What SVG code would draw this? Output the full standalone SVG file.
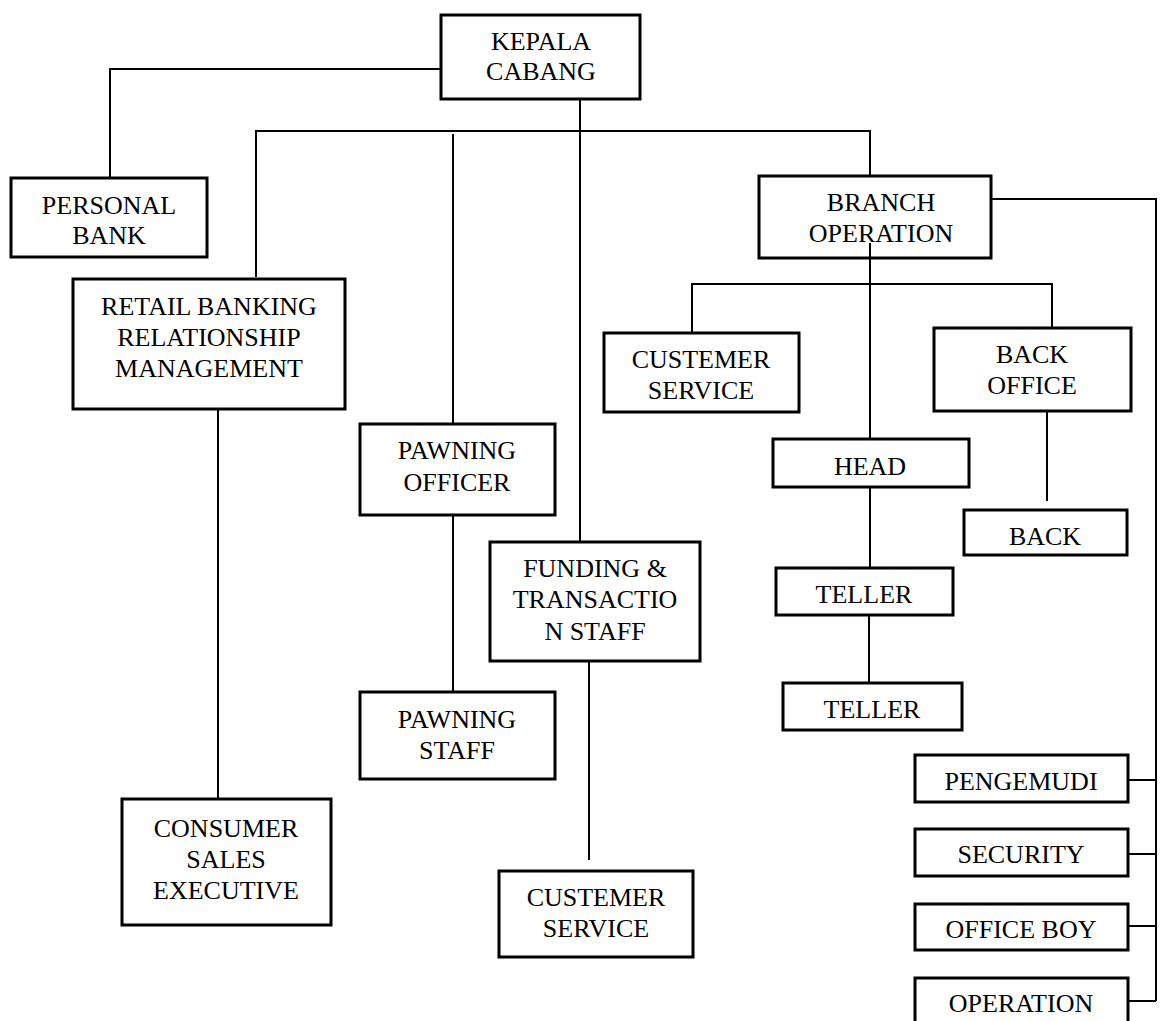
<svg xmlns="http://www.w3.org/2000/svg" width="1162" height="1021" viewBox="0 0 1162 1021">
<style>
.box{fill:#fff;stroke:#000;stroke-width:3}
.ln{fill:none;stroke:#000;stroke-width:2}
text{font-family:"Liberation Serif","Times New Roman",serif;font-size:26px;fill:#000;text-anchor:middle}
</style>
<rect width="1162" height="1021" fill="#fff"/>
<g id="connectors">
<path class="ln" d="M441,69 H110 V177"/>
<path class="ln" d="M256,277 V131 H870 V175"/>
<path class="ln" d="M453,134 V424"/>
<path class="ln" d="M580,99 V542"/>
<path class="ln" d="M218,409 V799"/>
<path class="ln" d="M453,515 V692"/>
<path class="ln" d="M589,661 V860"/>
<path class="ln" d="M992,199 H1156 V1001"/>
<path class="ln" d="M692,332 V284 H1052 V328"/>
<path class="ln" d="M1047,411 V501"/>
<path class="ln" d="M870,487 V568"/>
<path class="ln" d="M869,615 V683"/>
<path class="ln" d="M1129,780 H1156 M1129,854 H1156 M1129,926 H1156 M1125,1001 H1156"/>
</g>
<g id="kepala"><rect class="box" x="441" y="15" width="199" height="84"/><text x="541" y="50">KEPALA</text><text x="541" y="80">CABANG</text></g>
<g id="personal"><rect class="box" x="11" y="178" width="196" height="79"/><text x="109" y="214">PERSONAL</text><text x="109" y="244">BANK</text></g>
<g id="retail"><rect class="box" x="73" y="279" width="272" height="130"/><text x="209" y="315">RETAIL BANKING</text><text x="209" y="346">RELATIONSHIP</text><text x="209" y="377">MANAGEMENT</text></g>
<g id="pawning-officer"><rect class="box" x="360" y="424" width="195" height="91"/><text x="457" y="459">PAWNING</text><text x="457" y="491">OFFICER</text></g>
<g id="funding"><rect class="box" x="490" y="542" width="210" height="119"/><text x="595" y="577">FUNDING &amp;</text><text x="595" y="608">TRANSACTIO</text><text x="595" y="640">N STAFF</text></g>
<g id="pawning-staff"><rect class="box" x="360" y="692" width="195" height="87"/><text x="457" y="728">PAWNING</text><text x="457" y="759">STAFF</text></g>
<g id="consumer"><rect class="box" x="122" y="799" width="209" height="126"/><text x="226" y="837">CONSUMER</text><text x="226" y="868">SALES</text><text x="226" y="899">EXECUTIVE</text></g>
<g id="cs-bottom"><rect class="box" x="499" y="871" width="194" height="86"/><text x="596" y="906">CUSTEMER</text><text x="596" y="937">SERVICE</text></g>
<g id="branch"><rect class="box" x="759" y="176" width="232" height="82"/><text x="881" y="211">BRANCH</text><text x="881" y="242">OPERATION</text></g>
<path class="ln" d="M870,243 V439"/>
<g id="cs-right"><rect class="box" x="604" y="333" width="195" height="79"/><text x="701" y="368">CUSTEMER</text><text x="701" y="399">SERVICE</text></g>
<g id="back-office"><rect class="box" x="934" y="328" width="197" height="83"/><text x="1032" y="363">BACK</text><text x="1032" y="394">OFFICE</text></g>
<g id="head"><rect class="box" x="773" y="439" width="196" height="48"/><text x="870" y="475">HEAD</text></g>
<g id="back"><rect class="box" x="964" y="510" width="163" height="45"/><text x="1045" y="545">BACK</text></g>
<g id="teller1"><rect class="box" x="776" y="568" width="177" height="47"/><text x="864" y="603">TELLER</text></g>
<g id="teller2"><rect class="box" x="783" y="683" width="179" height="47"/><text x="872" y="718">TELLER</text></g>
<g id="pengemudi"><rect class="box" x="915" y="755" width="213" height="47"/><text x="1021" y="790">PENGEMUDI</text></g>
<g id="security"><rect class="box" x="915" y="829" width="213" height="47"/><text x="1021" y="863">SECURITY</text></g>
<g id="office-boy"><rect class="box" x="915" y="904" width="213" height="46"/><text x="1021" y="938">OFFICE BOY</text></g>
<g id="operation"><rect class="box" x="915" y="978" width="213" height="62"/><text x="1021" y="1012">OPERATION</text></g>
</svg>
